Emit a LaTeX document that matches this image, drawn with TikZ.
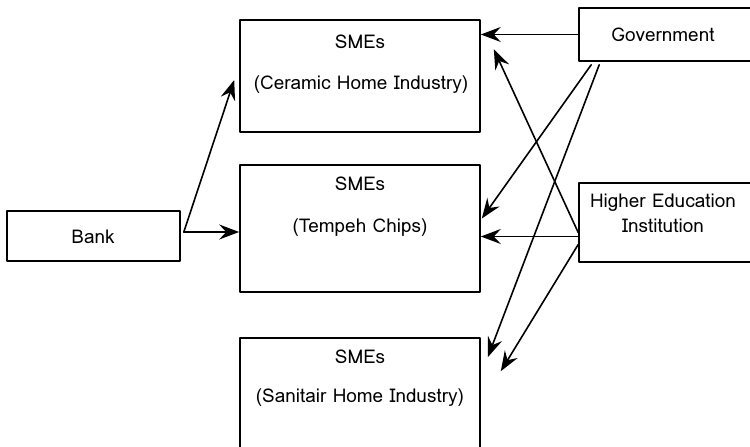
\documentclass[tikz,border=0pt]{standalone}
\usepackage{fontspec}
\setmainfont{Loma}
\usetikzlibrary{arrows.meta,calc}
\tikzset{
	box/.style={draw, line width=1.6pt, inner sep=0pt},
	link/.style={-{Stealth[length=20bp,width=15bp,inset=7bp]}, line width=1.6pt}
}
\begin{document}
\begin{tikzpicture}[x=1bp, y=-1bp, font=\fontsize{19}{25}\selectfont, line join=round, line cap=round]
		\useasboundingbox (0,0) rectangle (750,447);
		% boxes
		\node[box, minimum width=173bp, minimum height=50bp] (bank) at (93.5,236) {};
		\node[box, minimum width=240bp, minimum height=112bp] (sme1) at (360,76) {};
		\node[box, minimum width=240bp, minimum height=127bp] (sme2) at (360,228.5) {};
		\node[box, minimum width=240bp, minimum height=124bp] (sme3) at (360,400) {};
		\node[box, minimum width=176bp, minimum height=53bp] (gov) at (667,34.5) {};
		\node[box, minimum width=176bp, minimum height=79bp] (hei) at (667,222.5) {};
		% labels
		\node (bankt) at (93,237) {Bank};
		\node (sme1a) at (360,42) {SMEs};
		\node (sme1b) at (361,85) {(Ceramic Home Industry)};
		\node (sme2a) at (360,184) {SMEs};
		\node (sme2b) at (360,228) {(Tempeh Chips)};
		\node (sme3a) at (360,357) {SMEs};
		\node (sme3b) at (360,398) {(Sanitair Home Industry)};
		\node (govt) at (663,35) {Government};
		\node[align=center] (heit) at (663,213) {Higher Education\\Institution};
		% end points
		\coordinate (bankout) at ($(bank.east)+(3,-4)$);
		\coordinate (heiout) at ($(hei.west)+(0,14)$);
		% bank
		\draw[link] (bankout) -- ($(sme1.west)+(-5,4)$);
		\draw[link] (bankout) -- (bankout -| sme2.west);
		% government
		\draw[link] (gov.west) -- (gov.west -| sme1.east);
		\draw[link] ($(gov.south west)+(13,3)$) -- ($(sme2.east)+(1,-10)$);
		\draw[link] ($(gov.south west)+(21,3)$) -- ($(sme3.north east)+(7,20)$);
		% higher education
		\draw[link] ($(hei.west)+(0,10)$) -- ($(sme1.north east)+(13,30)$);
		\draw[link] (heiout) -- (heiout -| sme2.east);
		\draw[link] ($(hei.west)+(0,22)$) -- ($(sme3.north east)+(20,34)$);
\end{tikzpicture}
\end{document}
